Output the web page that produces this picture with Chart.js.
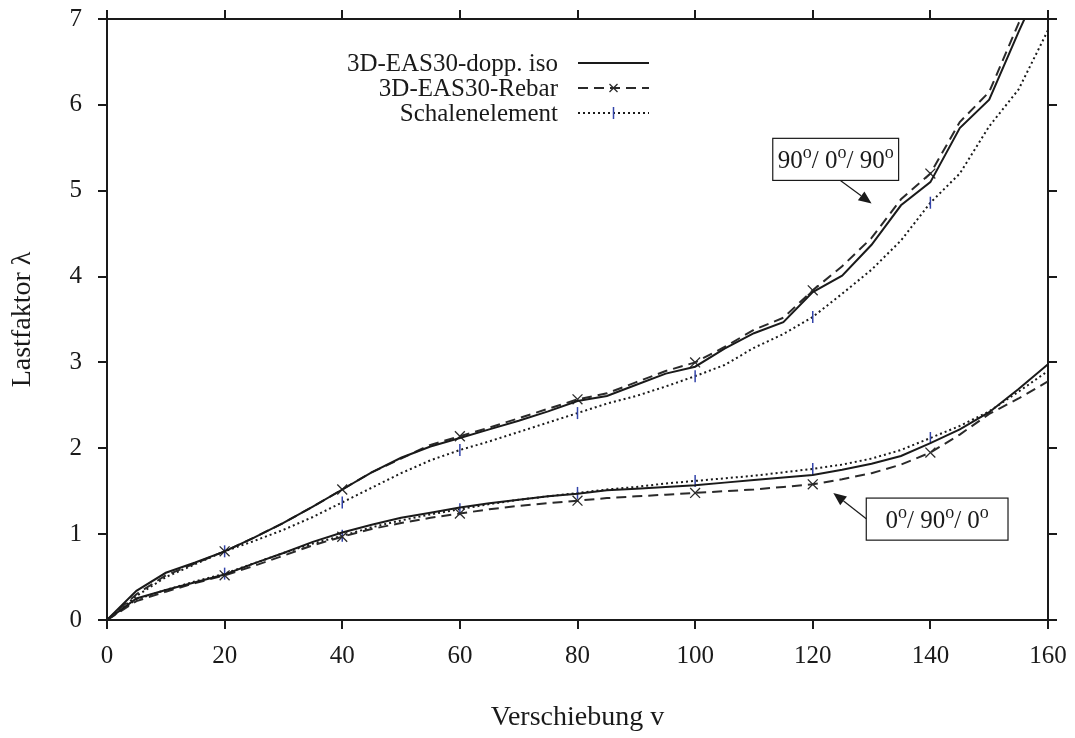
<!DOCTYPE html>
<html>
<head>
<meta charset="utf-8">
<script src="https://cdn.jsdelivr.net/npm/chart.js@4/dist/chart.umd.min.js"></script>
<style>
  body { margin: 0; background: #fff; }
  canvas { display: block; }
</style>
</head>
<body>
<canvas id="chart" width="1075" height="738"></canvas>
<script>
// displacement v (x axis)
const verschiebung = [0, 5, 10, 15, 20, 25, 30, 35, 40, 45, 50, 55, 60, 65, 70, 75, 80,
  85, 90, 95, 100, 105, 110, 115, 120, 125, 130, 135, 140, 145, 150, 155, 160];

// 90/0/90 laminate
const iso_90_0_90 = [0, 0.34, 0.55, 0.67, 0.80, 0.96, 1.13, 1.32, 1.52, 1.72, 1.89, 2.02, 2.12,
  2.22, 2.32, 2.43, 2.55, 2.61, 2.74, 2.87, 2.95, 3.16, 3.34, 3.47, 3.82, 4.01, 4.37, 4.83, 5.10,
  5.73, 6.06, 6.85, 7.6];
const rebar_90_0_90 = [0, 0.30, 0.52, 0.66, 0.80, 0.96, 1.13, 1.32, 1.52, 1.72, 1.88, 2.04, 2.14,
  2.24, 2.35, 2.46, 2.57, 2.64, 2.77, 2.90, 3.00, 3.18, 3.38, 3.52, 3.84, 4.12, 4.45, 4.90, 5.20,
  5.80, 6.15, 6.95, 7.7];
const schale_90_0_90 = [0, 0.28, 0.50, 0.65, 0.80, 0.92, 1.05, 1.20, 1.37, 1.54, 1.71, 1.86, 1.98,
  2.08, 2.19, 2.30, 2.41, 2.52, 2.61, 2.72, 2.84, 2.97, 3.17, 3.33, 3.53, 3.80, 4.08, 4.42, 4.86,
  5.20, 5.75, 6.18, 6.87];

// 0/90/0 laminate
const iso_0_90_0 = [0, 0.25, 0.35, 0.44, 0.53, 0.66, 0.78, 0.91, 1.02, 1.11, 1.19, 1.25, 1.31,
  1.36, 1.40, 1.44, 1.47, 1.51, 1.53, 1.55, 1.57, 1.60, 1.63, 1.66, 1.69, 1.75, 1.82, 1.91, 2.06,
  2.22, 2.42, 2.69, 2.98];
const rebar_0_90_0 = [0, 0.22, 0.33, 0.43, 0.52, 0.63, 0.75, 0.87, 0.97, 1.06, 1.13, 1.19, 1.24,
  1.29, 1.33, 1.36, 1.39, 1.42, 1.44, 1.46, 1.48, 1.50, 1.52, 1.55, 1.58, 1.64, 1.71, 1.81, 1.95,
  2.16, 2.40, 2.58, 2.78];
const schale_0_90_0 = [0, 0.24, 0.35, 0.45, 0.54, 0.66, 0.78, 0.89, 0.98, 1.08, 1.16, 1.23, 1.29,
  1.35, 1.40, 1.44, 1.48, 1.52, 1.55, 1.59, 1.62, 1.65, 1.68, 1.72, 1.76, 1.81, 1.88, 1.98, 2.12,
  2.26, 2.43, 2.66, 2.90];

const seriesNames = ['3D-EAS30-dopp. iso', '3D-EAS30-Rebar', 'Schalenelement'];
const xTicks = [0, 20, 40, 60, 80, 100, 120, 140, 160];
const yTicks = [0, 1, 2, 3, 4, 5, 6, 7];

// annotation boxes, in data units
const labels = [
  { parts: ['90', 'o', '/ 0', 'o', '/ 90', 'o'], box: [113.2, 5.61, 134.6, 5.12], from: [124.7, 5.12], to: [130.0, 4.85] },
  { parts: ['0', 'o', '/ 90', 'o', '/ 0', 'o'], box: [129.1, 1.42, 153.2, 0.93], from: [129.1, 1.18], to: [123.5, 1.48] }
];

const FONT = '"Liberation Serif", "Times New Roman", serif';
const INK = '#1a1a1a';

function pts(ys) {
  return verschiebung.map((v, i) => ({ x: v, y: ys[i] }));
}
function markEvery20(r) {
  return ctx => {
    const x = ctx.raw ? ctx.raw.x : 0;
    return (x > 0 && x < 160 && x % 20 === 0) ? r : 0;
  };
}

const solid = { borderColor: INK, borderWidth: 2, pointRadius: 0 };
const dashed = {
  borderColor: '#2a2a2a', borderWidth: 2, borderDash: [10, 6],
  pointStyle: 'crossRot', pointRadius: markEvery20(7), pointBorderColor: '#2a2a2a',
  pointBorderWidth: 1.3
};
const dotted = {
  borderColor: INK, borderWidth: 2, borderDash: [2, 3],
  pointStyle: 'line', pointRotation: 90, pointRadius: markEvery20(6),
  pointBorderColor: '#3344aa', pointBorderWidth: 1.5
};

const datasets = [
  Object.assign({ label: seriesNames[0], data: pts(iso_90_0_90) }, solid),
  Object.assign({ label: seriesNames[1], data: pts(rebar_90_0_90) }, dashed),
  Object.assign({ label: seriesNames[2], data: pts(schale_90_0_90) }, dotted),
  Object.assign({ label: seriesNames[0], data: pts(iso_0_90_0) }, solid),
  Object.assign({ label: seriesNames[1], data: pts(rebar_0_90_0) }, dashed),
  Object.assign({ label: seriesNames[2], data: pts(schale_0_90_0) }, dotted)
];

// legend drawn inside the plot, text right aligned, sample to the right
const legendPlugin = {
  id: 'legendBox',
  afterDatasetsDraw(chart) {
    const ctx = chart.ctx;
    const textRight = 558, x0 = 578, x1 = 649, y0 = 63, dy = 25;
    ctx.save();
    ctx.font = '25px ' + FONT;
    ctx.fillStyle = INK;
    ctx.textAlign = 'right';
    ctx.textBaseline = 'middle';
    for (let i = 0; i < 3; i++) {
      const ds = chart.data.datasets[i];
      const y = y0 + i * dy;
      ctx.fillText(ds.label, textRight, y + 1);
      ctx.strokeStyle = ds.borderColor;
      ctx.lineWidth = ds.borderWidth;
      ctx.setLineDash(ds.borderDash || []);
      ctx.beginPath();
      ctx.moveTo(x0, y);
      ctx.lineTo(x1, y);
      ctx.stroke();
      ctx.setLineDash([]);
      const mx = (x0 + x1) / 2;
      if (i === 1) {
        ctx.strokeStyle = ds.pointBorderColor;
        ctx.lineWidth = 1.3;
        ctx.beginPath();
        ctx.moveTo(mx - 4, y - 4); ctx.lineTo(mx + 4, y + 4);
        ctx.moveTo(mx + 4, y - 4); ctx.lineTo(mx - 4, y + 4);
        ctx.stroke();
      } else if (i === 2) {
        ctx.strokeStyle = ds.pointBorderColor;
        ctx.lineWidth = 1.5;
        ctx.beginPath();
        ctx.moveTo(mx, y - 6); ctx.lineTo(mx, y + 6);
        ctx.stroke();
      }
    }
    ctx.restore();
  }
};

// boxed layup labels with arrows
const notePlugin = {
  id: 'notes',
  afterDatasetsDraw(chart) {
    const ctx = chart.ctx;
    const sx = chart.scales.x, sy = chart.scales.y;
    ctx.save();
    labels.forEach(n => {
      const l = sx.getPixelForValue(n.box[0]), t = sy.getPixelForValue(n.box[1]);
      const r = sx.getPixelForValue(n.box[2]), b = sy.getPixelForValue(n.box[3]);
      ctx.fillStyle = '#fff';
      ctx.fillRect(l, t, r - l, b - t);
      ctx.strokeStyle = INK;
      ctx.lineWidth = 1.2;
      ctx.strokeRect(l, t, r - l, b - t);

      // text with raised "o"
      const big = '25px ' + FONT, small = '18px ' + FONT;
      let w = 0;
      n.parts.forEach((p, i) => { ctx.font = i % 2 ? small : big; w += ctx.measureText(p).width; });
      let x = (l + r) / 2 - w / 2;
      const base = (t + b) / 2 + 9;
      ctx.textAlign = 'left';
      ctx.textBaseline = 'alphabetic';
      ctx.fillStyle = INK;
      n.parts.forEach((p, i) => {
        ctx.font = i % 2 ? small : big;
        ctx.fillText(p, x, i % 2 ? base - 10 : base);
        x += ctx.measureText(p).width;
      });

      // arrow
      const fx = sx.getPixelForValue(n.from[0]), fy = sy.getPixelForValue(n.from[1]);
      const tx = sx.getPixelForValue(n.to[0]), ty = sy.getPixelForValue(n.to[1]);
      const ang = Math.atan2(ty - fy, tx - fx);
      const hl = 13, hw = 5.5;
      ctx.strokeStyle = INK;
      ctx.lineWidth = 1.2;
      ctx.beginPath();
      ctx.moveTo(fx, fy);
      ctx.lineTo(tx - hl * Math.cos(ang), ty - hl * Math.sin(ang));
      ctx.stroke();
      ctx.beginPath();
      ctx.moveTo(tx, ty);
      ctx.lineTo(tx - hl * Math.cos(ang) + hw * Math.sin(ang), ty - hl * Math.sin(ang) - hw * Math.cos(ang));
      ctx.lineTo(tx - hl * Math.cos(ang) - hw * Math.sin(ang), ty - hl * Math.sin(ang) + hw * Math.cos(ang));
      ctx.closePath();
      ctx.fill();
    });
    ctx.restore();
  }
};

const grid = { drawOnChartArea: false, tickLength: 9, lineWidth: 2, color: INK };
const border = { color: INK, width: 2 };
const tickFont = { family: FONT, size: 25 };
const titleFont = { family: FONT, size: 28 };

// fixed scale sizes so the plot box sits where it does in the source figure
function fixSize(prop, val) {
  return s => {
    s[prop] = val;
    s.paddingTop = 0; s.paddingBottom = 0; s.paddingLeft = 0; s.paddingRight = 0;
  };
}

new Chart(document.getElementById('chart'), {
  type: 'line',
  data: { datasets },
  options: {
    responsive: false,
    animation: false,
    devicePixelRatio: 1,
    layout: { padding: 0 },
    plugins: { legend: { display: false }, tooltip: { enabled: false } },
    elements: { line: { tension: 0, fill: false } },
    scales: {
      x: {
        type: 'linear', position: 'bottom', min: 0, max: 160,
        afterBuildTicks: s => { s.ticks = xTicks.map(v => ({ value: v })); },
        ticks: { font: tickFont, color: INK, padding: 12, maxRotation: 0 },
        grid, border,
        title: { display: true, text: 'Verschiebung v', font: titleFont, color: INK, padding: { top: 0, bottom: 4 } },
        afterFit: fixSize('height', 118)
      },
      xTop: {
        axis: 'x', type: 'linear', position: 'top', min: 0, max: 160,
        afterBuildTicks: s => { s.ticks = xTicks.map(v => ({ value: v })); },
        ticks: { display: false },
        grid, border,
        afterFit: fixSize('height', 19)
      },
      y: {
        type: 'linear', position: 'left', min: 0, max: 7,
        afterBuildTicks: s => { s.ticks = yTicks.map(v => ({ value: v })); },
        ticks: { font: tickFont, color: INK, padding: 16 },
        grid, border,
        title: { display: true, text: 'Lastfaktor λ', font: titleFont, color: INK, padding: { top: 6, bottom: 0 } },
        afterFit: fixSize('width', 107)
      },
      yRight: {
        axis: 'y', type: 'linear', position: 'right', min: 0, max: 7,
        afterBuildTicks: s => { s.ticks = yTicks.map(v => ({ value: v })); },
        ticks: { display: false },
        grid, border,
        afterFit: fixSize('width', 27)
      }
    }
  },
  plugins: [legendPlugin, notePlugin]
});
</script>
</body>
</html>
